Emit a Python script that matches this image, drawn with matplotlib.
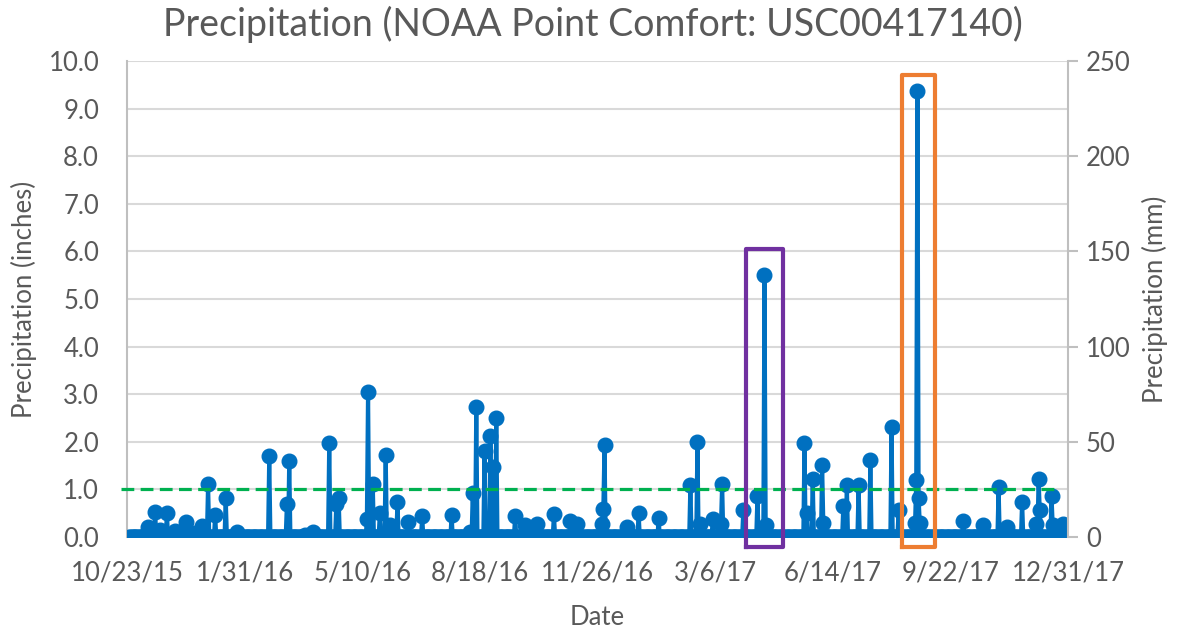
import matplotlib.pyplot as plt
import numpy as np
import pandas as pd

# daily precipitation, zero on every day not listed
start_date = "2015-10-25"
end_date = "2017-12-31"
axis_start = "2015-10-23"

# days after 10/23/15 with rain, and the amount in inches
rain_day = [18, 24, 28, 34, 41, 50, 58, 64, 69, 75, 84, 94, 121, 136, 138, 151,
            158, 172, 178, 180, 204, 205, 209, 215, 220, 224, 230, 239, 251, 276,
            292, 294, 297, 304, 309, 311, 314, 330, 338, 349, 363, 377, 383, 404,
            405, 406, 425, 435, 452, 479, 485, 487, 498, 505, 506, 524, 536, 542,
            543, 576, 578, 583, 591, 592, 609, 612, 622, 632, 650, 656, 670, 671,
            672, 673, 674, 711, 728, 741, 748, 761, 773, 775, 776, 786, 787, 796, 800]
rain_in = [0.20, 0.53, 0.15, 0.50, 0.12, 0.32, 0.08, 0.23, 1.11, 0.46, 0.82, 0.10,
           1.70, 0.69, 1.60, 0.05, 0.10, 1.98, 0.70, 0.82, 0.38, 3.05, 1.11, 0.50,
           1.72, 0.25, 0.74, 0.32, 0.44, 0.46, 0.10, 0.92, 2.73, 1.81, 2.12, 1.47,
           2.50, 0.44, 0.25, 0.27, 0.48, 0.34, 0.27, 0.27, 0.59, 1.93, 0.20, 0.50,
           0.40, 1.09, 2.00, 0.27, 0.37, 0.27, 1.11, 0.57, 0.86, 5.50, 0.25, 1.98,
           0.50, 1.22, 1.51, 0.30, 0.65, 1.09, 1.09, 1.62, 2.31, 0.57, 0.30, 1.20,
           9.38, 0.82, 0.30, 0.34, 0.25, 1.04, 0.20, 0.74, 0.27, 1.22, 0.57, 0.86,
           0.25, 0.27, 0.05]

threshold_in = 1.0
# highlighted storms: (day after 10/23/15, half width in days, box top in inches, colour)
highlights = [(542, 16, 6.05, "#7030A0"), (673, 14, 9.71, "#ED7D31")]

t0 = pd.Timestamp(axis_start)
days = pd.date_range(start_date, end_date, freq="D")
series = pd.Series(0.0, index=days)
for d, v in zip(rain_day, rain_in):
    series[t0 + pd.Timedelta(days=d)] = v

text_c = "#595959"
grid_c = "#D9D9D9"
plt.rcParams["font.family"] = ["Lato", "DejaVu Sans"]

fig = plt.figure(figsize=(11.86, 6.33), dpi=100)
ax = fig.add_axes([0.107, 0.1517, 0.7935, 0.7519])

ax.plot(series.index, series.values, color="#0070C0", lw=3, marker="o",
        markersize=10.5, zorder=3)
ax.plot([t0 - pd.Timedelta(days=5), t0 + pd.Timedelta(days=792)],
        [threshold_in, threshold_in], color="#00B050", lw=2.3,
        linestyle=(0, (4, 2)), zorder=4, clip_on=False)

for d, hw, top, c in highlights:
    x0 = t0 + pd.Timedelta(days=d - hw)
    x1 = t0 + pd.Timedelta(days=d + hw)
    ax.plot([x0, x1, x1, x0, x0], [-0.21, -0.21, top, top, -0.21], color=c,
            lw=3, zorder=5, clip_on=False)

ax.set_ylim(0, 10)
ax.set_yticks(np.arange(0, 10.01, 1.0))
ax.set_yticklabels([f"{v:.1f}" for v in np.arange(0, 10.01, 1.0)])
ax.set_xlim(t0, pd.Timestamp(end_date))
xt = [t0 + pd.Timedelta(days=100 * i) for i in range(9)]
ax.set_xticks(xt)
ax.set_xticklabels([f"{d.month}/{d.day}/{d:%y}" for d in xt])
ax.grid(axis="y", color=grid_c, lw=1.5, zorder=0)
ax.tick_params(axis="y", length=0, pad=20, labelsize=18.5, colors=text_c)
ax.tick_params(axis="x", length=0, pad=17, labelsize=18.5, colors=text_c)
for s in ["top", "bottom", "right"]:
    ax.spines[s].set_visible(False)
ax.spines["left"].set_color("#BFBFBF")
ax.spines["left"].set_linewidth(1.5)

ax2 = ax.twinx()
ax2.set_ylim(0, 250)
ax2.set_yticks(range(0, 251, 50))
ax2.tick_params(axis="y", length=7, width=1.5, color="#BFBFBF", pad=6,
                labelsize=18.5, labelcolor=text_c)
for s in ["top", "bottom", "left"]:
    ax2.spines[s].set_visible(False)
ax2.spines["right"].set_color("#BFBFBF")
ax2.spines["right"].set_linewidth(1.5)

ax.set_ylabel("Precipitation (inches)", fontsize=18.5, color=text_c, labelpad=8)
ax2.set_ylabel("Precipitation (mm)", fontsize=18.5, color=text_c, labelpad=8)
ax.set_xlabel("Date", fontsize=18.5, color=text_c, labelpad=14)
fig.suptitle("Precipitation (NOAA Point Comfort: USC00417140)", fontsize=27,
             color=text_c, y=0.99)

fig.savefig("out.png", dpi=100)
